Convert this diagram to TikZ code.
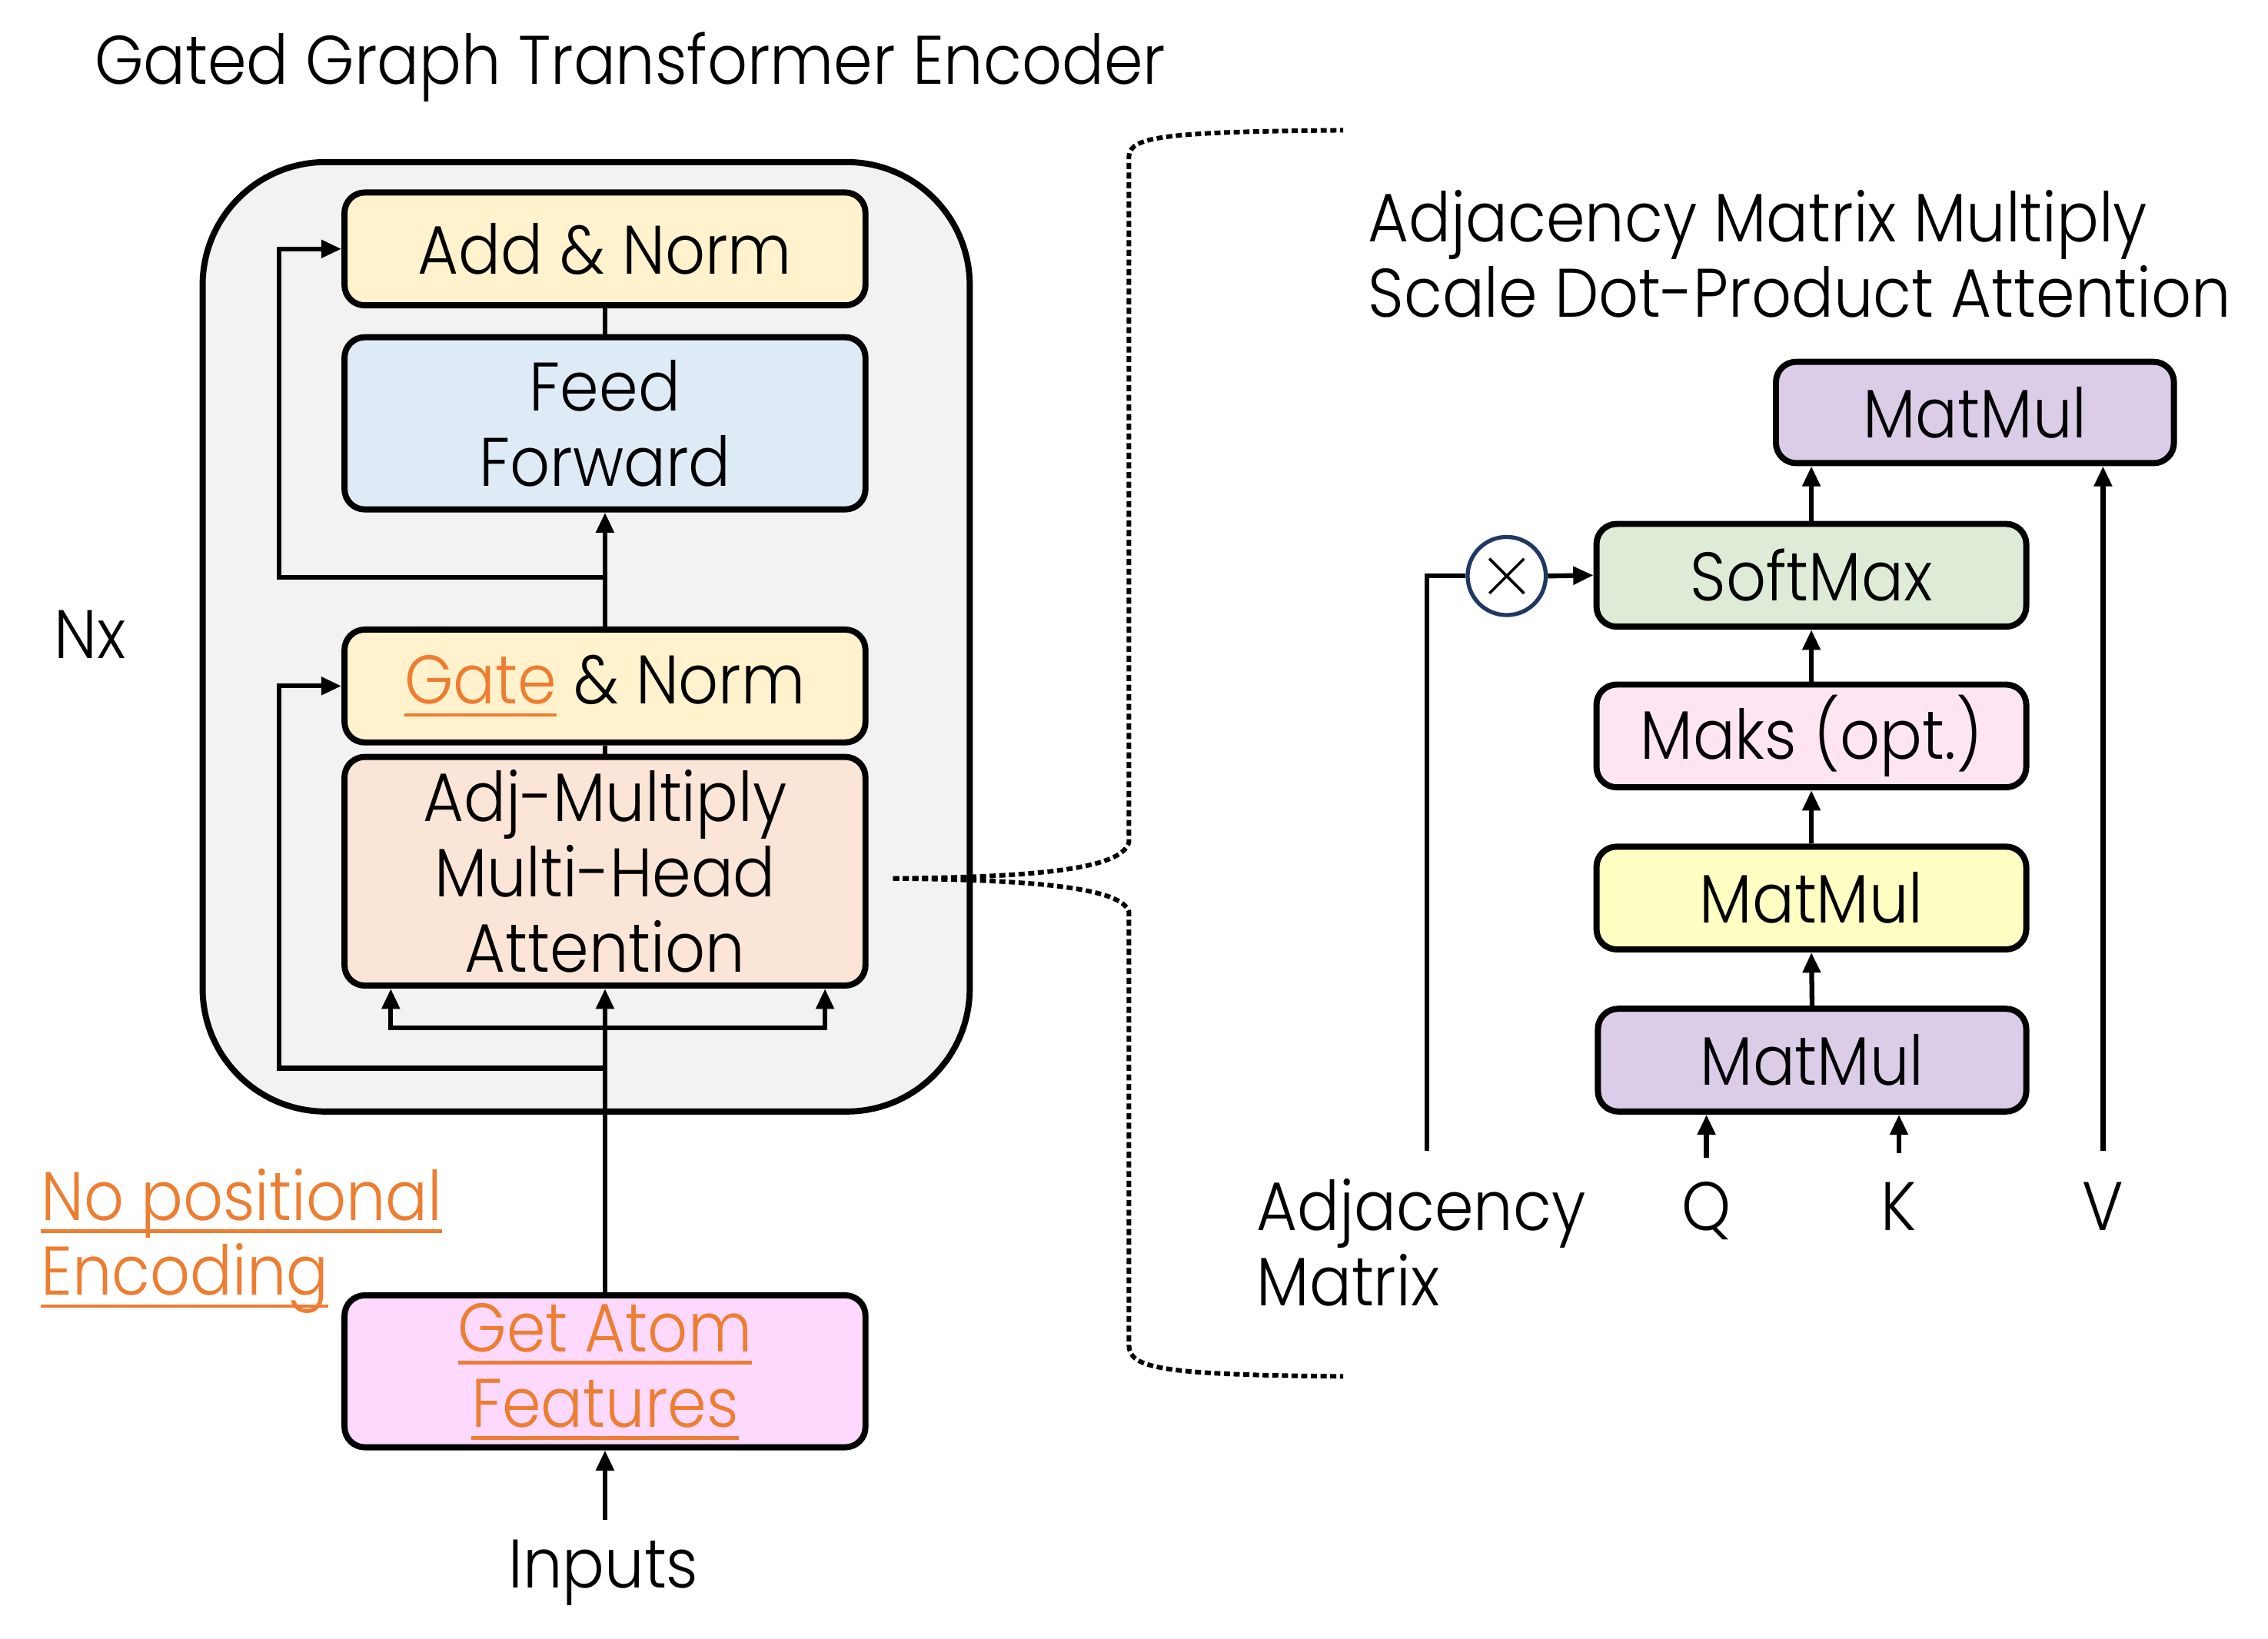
\documentclass[tikz,border=0pt]{standalone}
\usepackage{fontspec}
\setmainfont{Poppins Light}[FakeStretch=0.91]
\usetikzlibrary{arrows.meta}
\definecolor{addc}{HTML}{FFF2CC}
\definecolor{ffc}{HTML}{DEEBF7}
\definecolor{adjc}{HTML}{FBE5D6}
\definecolor{atomc}{HTML}{FDD9FE}
\definecolor{orc}{HTML}{ED7D31}
\definecolor{purc}{HTML}{DBCDE7}
\definecolor{softc}{HTML}{DEEBD6}
\definecolor{maksc}{HTML}{FFE5F2}
\definecolor{yelc}{HTML}{FFFFC3}
\definecolor{circc}{HTML}{1F3864}
\definecolor{bgc}{HTML}{F2F2F2}
\newcommand\orul[1]{\setbox0\hbox{#1}\rlap{\raisebox{-5pt}{\rule{\wd0}{1.3pt}}}\box0}
\begin{document}
\begin{tikzpicture}[x=0.02cm,y=-0.02cm,
  txt/.style={font=\fontsize{27}{29.6}\selectfont, inner sep=0pt},
  box/.style={draw, line width=2.4pt, rounded corners=0.28cm, align=center,
    font=\fontsize{27}{29.6}\selectfont, inner sep=0pt},
  conn/.style={line width=1.9pt},
  arr/.style={line width=1.9pt, -{Triangle[length=0.28cm,width=0.24cm]}},
  brace/.style={line width=1.8pt, dash pattern=on 2.4pt off 1.4pt}]
\useasboundingbox (0,0) rectangle (1567,1132);
% title
\node[txt, anchor=base west] (title) at (65,58) {Gated Graph Transformer Encoder};
% outer block
\draw[line width=2.4pt, fill=bgc, rounded corners=1.7cm] (140,112) rectangle (670,768);
\node[box, fill=addc, minimum width=7.2cm, minimum height=1.56cm] (add) at (418,172) {Add \& Norm};
\node[box, fill=ffc, minimum width=7.2cm, minimum height=2.38cm] (ff) at (418,292.5) {Feed\\Forward};
\node[box, fill=addc, minimum width=7.2cm, minimum height=1.56cm] (gate) at (418,474) {{\color{orc}\orul{Gate}} \& Norm};
\node[box, fill=adjc, minimum width=7.2cm, minimum height=3.16cm] (adj) at (418,602) {Adj-Multiply\\Multi-Head\\Attention};
\node[box, fill=atomc, minimum width=7.2cm, minimum height=2.1cm, font=\fontsize{27}{29.6}\selectfont\color{orc}] (atom) at (418,947.5) {\orul{Get Atom}\\\orul{Features}};
\node[txt, anchor=base] (inputs) at (417,1097) {Inputs};
\node[txt, anchor=base west] (nx) at (37,455) {Nx};
\node[txt, anchor=base west, text=orc] (nope1) at (28,843) {\orul{No positional}};
\node[txt, anchor=base west, text=orc] (nope2) at (28,895) {\orul{Encoding}};
% connectors left
\coordinate (inbot) at (418,1050);
\draw[arr] (inbot) -- (atom.south);
\draw[arr] (atom.north) -- (adj.south);
\coordinate (br) at (418,710);
\coordinate (bl) at (270,710);
\coordinate (brr) at (570,710);
\draw[arr] (br) -- (bl) -- (bl |- adj.south);
\draw[arr] (br) -- (brr) -- (brr |- adj.south);
\coordinate (r1) at (418,738);
\coordinate (r1l) at (193,738);
\draw[arr] (r1) -- (r1l) |- (gate.west);
\draw[conn] (adj.north) -- (gate.south);
\draw[arr] (gate.north) -- (ff.south);
\coordinate (r2) at (418,399);
\coordinate (r2l) at (193,399);
\draw[arr] (r2) -- (r2l) |- (add.west);
\draw[conn] (ff.north) -- (add.south);
% brace
\coordinate (bs) at (617,607);
\draw[brace] (bs) .. controls (720,606) and (775,600) .. (780,582) -- (780,108) .. controls (781,95) and (800,91) .. (928,90);
\draw[brace] (bs) .. controls (720,608) and (775,614) .. (780,630) -- (780,930) .. controls (781,945) and (800,950) .. (928,951);
% right title
\node[txt, anchor=base west] (rt1) at (945,167) {Adjacency Matrix Multiply};
\node[txt, anchor=base west] (rt2) at (945,219) {Scale Dot-Product Attention};
% right boxes
\node[box, fill=purc, minimum width=5.5cm, minimum height=1.4cm] (mt) at (1364.5,285) {MatMul};
\node[box, fill=softc, minimum width=5.94cm, minimum height=1.42cm] (soft) at (1251.5,397.5) {SoftMax};
\node[box, fill=maksc, minimum width=5.94cm, minimum height=1.42cm] (maks) at (1251.5,508.5) {Maks (opt.)};
\node[box, fill=yelc, minimum width=5.94cm, minimum height=1.42cm] (my) at (1251.5,620.5) {MatMul};
\node[box, fill=purc, minimum width=5.92cm, minimum height=1.42cm] (mp) at (1252,732.5) {MatMul};
\node[circle, draw=circc, fill=white, line width=1.6pt, minimum size=1.08cm, inner sep=0pt] (circ) at (1041,398) {};
\draw[line width=1.1pt] (1029,386) -- (1053,410) (1029,410) -- (1053,386);
% labels
\node[txt, anchor=base west] (adjl1) at (868,850) {Adjacency};
\node[txt, anchor=base west] (adjl2) at (868,902) {Matrix};
\node[txt, anchor=base] (ql) at (1179,850) {Q};
\node[txt, anchor=base] (kl) at (1312,850) {K};
\node[txt, anchor=base] (vl) at (1453,850) {V};
% right connectors
\draw[arr] (mp.north) -- (my.south);
\draw[arr] (my.north) -- (maks.south);
\draw[arr] (maks.north) -- (soft.south);
\draw[arr] (soft.north) -- (soft.north |- mt.south);
\coordinate (vtop) at (1453,795);
\draw[arr] (vtop) -- (vtop |- mt.south);
\coordinate (qtop) at (1179,800);
\draw[arr] (qtop) -- (qtop |- mp.south);
\coordinate (ktop) at (1312,797);
\draw[arr] (ktop) -- (ktop |- mp.south);
\coordinate (atop) at (986,795);
\draw[conn] (atop) |- (circ.west);
\draw[arr] (circ.east) -- (soft.west);
\end{tikzpicture}
\end{document}
